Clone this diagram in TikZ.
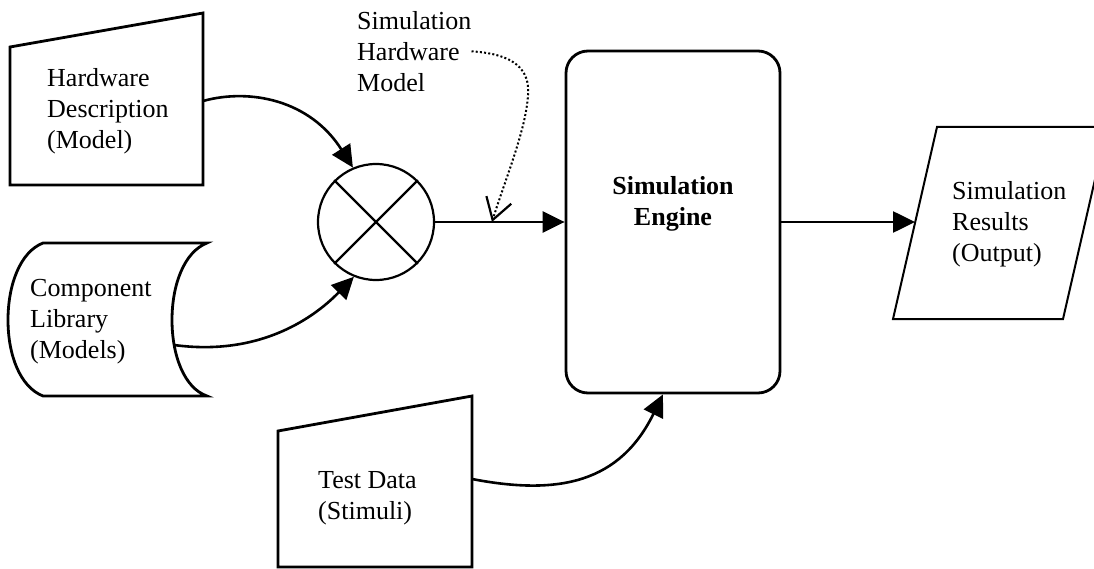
\documentclass[tikz,border=0pt]{standalone}
\usepackage{fontspec}
\setmainfont{Liberation Serif}
\usetikzlibrary{arrows.meta}
\begin{document}
\begin{tikzpicture}[x=1pt,y=-1pt,
  box/.style={line width=2.8pt,line join=miter},
  flow/.style={line width=2.6pt,-{Triangle[length=22pt,width=21pt]}},
  txt/.style={anchor=north west,inner sep=0pt,align=left,font=\fontsize{26}{31}\selectfont}]
  \clip (0,0) rectangle (1094,569);
  % shapes
  \draw[box] (10,47) -- (203,13) -- (203,185) -- (10,185) -- cycle;
  \draw[box] (43,243) -- (207,243) .. controls (184,252) and (172,285) .. (172,320)
    .. controls (172,355) and (184,388) .. (207,396) -- (43,396)
    .. controls (20,387) and (8,355) .. (8,320)
    .. controls (8,285) and (20,252) .. (43,243) -- cycle;
  \draw[box] (278,431) -- (472,396) -- (472,567) -- (278,567) -- cycle;
  \draw[line width=2pt] (937,127) -- (1107,127) -- (1063,319) -- (893,319) -- cycle;
  \node[draw,box,rounded corners=22pt,minimum width=214pt,minimum height=342pt] (engine) at (673,222) {};
  \node[draw,circle,line width=2.2pt,minimum size=116pt] (mix) at (376,222) {};
  \draw[line width=2.2pt] (mix.45) -- (mix.225) (mix.135) -- (mix.315);
  % texts
  \node[txt] (hw) at (47,68) {Hardware\\Description\\(Model)};
  \node[txt] (lib) at (30,279) {Component\\Library\\(Models)};
  \node[txt] (test) at (318,471) {Test Data\\(Stimuli)};
  \node[txt] (shm) at (357,11) {Simulation\\Hardware\\Model};
  \node[txt] (res) at (952,181) {Simulation\\Results\\(Output)};
  \node[anchor=north,inner sep=0pt,align=center,font=\fontsize{26}{31}\selectfont\bfseries] (eng) at (673,176) {Simulation\\Engine};
  % connection points
  \coordinate (hw-out) at (203,101);
  \coordinate (lib-out) at (174,345);
  \coordinate (test-out) at (472,479);
  \coordinate (res-in) at (915,222);
  \coordinate (tap) at (492,222);
  % connectors
  \draw[flow] (hw-out) .. controls (250,88) and (310,100) .. (mix.113);
  \draw[flow] (lib-out) .. controls (255,356) and (310,322) .. (mix.248);
  \draw[flow] (mix.east) -- (engine.west);
  \draw[flow] (engine.east) -- (res-in);
  \draw[flow] (test-out) .. controls (560,496) and (620,482) .. ([xshift=-10pt]engine.south);
  \draw[line width=2pt,dash pattern=on 2pt off 2.2pt,-{Straight Barb[length=21pt,width=26pt,line width=2.2pt]}]
    (shm.east) .. controls (515,54) and (530,70) .. (528,95)
    .. controls (526,130) and (505,180) .. (tap);
\end{tikzpicture}
\end{document}
